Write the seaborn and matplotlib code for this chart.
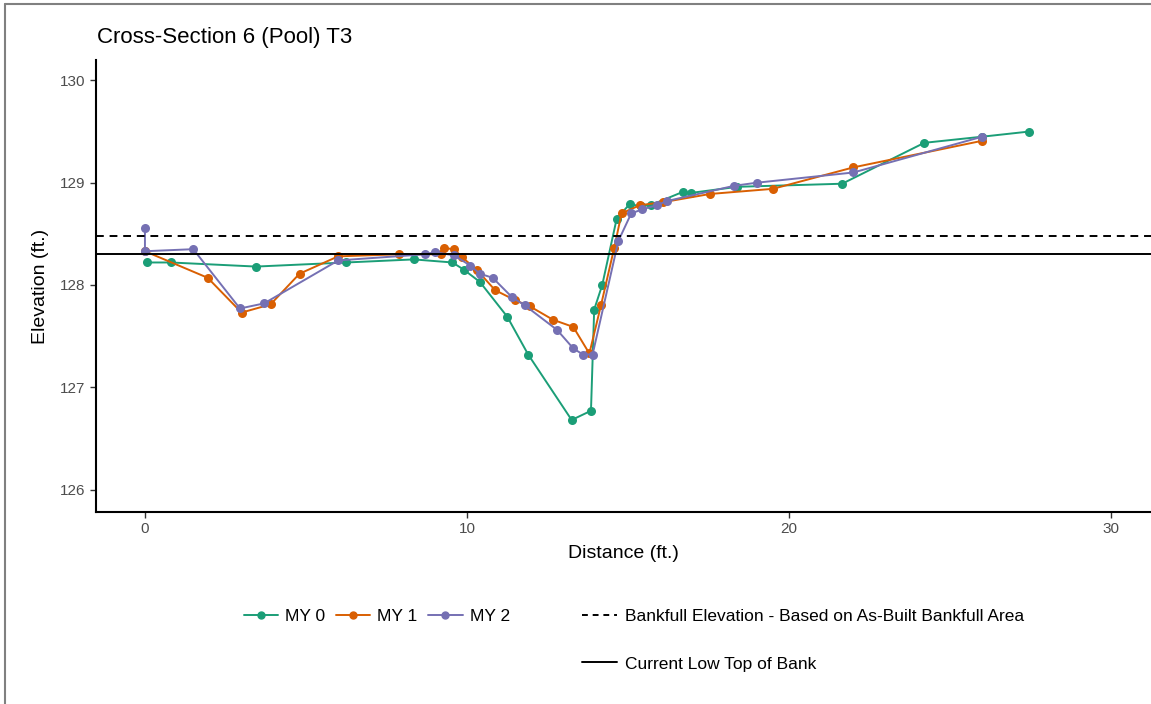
import seaborn as sns
import matplotlib.pyplot as plt
import matplotlib.lines as mlines
import pandas as pd

# Données
my0_x = [0.05, 0.8, 3.45, 6.25, 8.35, 9.55, 9.9, 10.4, 11.25, 11.9, 13.25, 13.85, 13.95, 14.2,
         14.65, 15.05, 15.4, 15.7, 16.7, 16.95, 18.4, 21.65, 24.2, 26.0, 27.45]
my0_y = [128.22, 128.22, 128.18, 128.22, 128.25, 128.22, 128.15, 128.03, 127.69, 127.32, 126.68,
         126.77, 127.76, 128.0, 128.65, 128.79, 128.77, 128.78, 128.91, 128.9, 128.96, 128.99,
         129.39, 129.45, 129.5]

my1_x = [0.0, 1.95, 3.0, 3.9, 4.8, 6.0, 7.9, 9.2, 9.3, 9.6, 9.85, 10.3, 10.87, 11.5, 11.96,
         12.67, 13.3, 13.8, 14.16, 14.57, 14.8, 15.37, 16.1, 17.55, 19.5, 22.0, 26.0]
my1_y = [128.33, 128.07, 127.73, 127.81, 128.11, 128.28, 128.3, 128.3, 128.36, 128.35, 128.27,
         128.15, 127.95, 127.85, 127.79, 127.66, 127.59, 127.33, 127.8, 128.36, 128.7, 128.78,
         128.81, 128.89, 128.94, 129.15, 129.41]

my2_x = [0.0, 0.0, 1.5, 2.95, 3.7, 6.0, 8.7, 9.0, 9.6, 10.1, 10.4, 10.8, 11.4, 11.8, 12.8,
         13.3, 13.6, 13.9, 14.7, 15.1, 15.45, 15.9, 16.2, 18.3, 19.0, 22.0, 26.0]
my2_y = [128.56, 128.33, 128.35, 127.77, 127.82, 128.24, 128.3, 128.32, 128.29, 128.19, 128.11,
         128.07, 127.88, 127.8, 127.56, 127.38, 127.32, 127.32, 128.43, 128.7, 128.74, 128.78,
         128.82, 128.97, 129.0, 129.1, 129.45]

bankfull = 128.48
low_top_bank = 128.30

series_names = ['MY 0', 'MY 1', 'MY 2']
palette = ['#1B9E77', '#D95F02', '#7570B3']

frames = []
for name, xs, ys in zip(series_names, [my0_x, my1_x, my2_x], [my0_y, my1_y, my2_y]):
    frames.append(pd.DataFrame({'Distance': xs, 'Elevation': ys, 'Survey': name}))
df = pd.concat(frames, ignore_index=True)

sns.set_style('white')
plt.rcParams['font.family'] = ['Liberation Sans', 'DejaVu Sans']
plt.rcParams['text.color'] = 'black'
plt.rcParams['axes.labelcolor'] = 'black'

fig = plt.figure(figsize=(11.51, 7.04), dpi=100)
ax = fig.add_axes([0.0834, 0.2727, 0.9166, 0.6421])

sns.lineplot(data=df, x='Distance', y='Elevation', hue='Survey', palette=palette,
             sort=False, estimator=None, marker='o', markersize=6.5, markeredgewidth=0,
             linewidth=1.4, legend=False, ax=ax)

ax.axhline(bankfull, color='black', linestyle=(0, (4, 3)), linewidth=1.4)
ax.axhline(low_top_bank, color='black', linestyle='-', linewidth=1.4)

ax.set_xlim(-1.52, 31.24)
ax.set_ylim(125.78, 130.2)
ax.set_xticks([0, 10, 20, 30])
ax.set_yticks([126, 127, 128, 129, 130])

for side in ['top', 'right']:
    ax.spines[side].set_visible(False)
for side in ['left', 'bottom']:
    ax.spines[side].set_color('black')
    ax.spines[side].set_linewidth(1.5)
ax.tick_params(axis='both', which='major', direction='out', length=4, width=1,
               color='#333333', labelsize=11, labelcolor='#4D4D4D', left=True, bottom=True)

ax.set_xlabel('Distance (ft.)', fontsize=14, labelpad=6, color='black')
ax.set_ylabel('Elevation (ft.)', fontsize=14, labelpad=8, color='black')
fig.text(0.084, 0.947, 'Cross-Section 6 (Pool) T3', fontsize=16, ha='left', va='center',
         color='black')

# Légendes
series_handles = [mlines.Line2D([], [], color=c, marker='o', markersize=5, linewidth=1.4)
                  for c in palette]
fig.legend(series_handles, series_names, ncol=3, loc='center left',
           bbox_to_anchor=(0.198, 0.125), frameon=False, fontsize=12.5,
           handlelength=2.0, handletextpad=0.4, columnspacing=0.6)
line_handles = [mlines.Line2D([], [], color='black', linestyle=(0, (3, 2.5)), linewidth=1.4),
                mlines.Line2D([], [], color='black', linestyle='-', linewidth=1.4)]
fig.legend(line_handles, ['Bankfull Elevation - Based on As-Built Bankfull Area',
                          'Current Low Top of Bank'],
           ncol=1, loc='upper left', bbox_to_anchor=(0.492, 0.157), frameon=False,
           fontsize=12.5, handlelength=2.0, handletextpad=0.5, labelspacing=1.85)

# Cadre gris
fig.add_artist(mlines.Line2D([0.004, 0.004], [0, 0.994], color='#808080', linewidth=1.5,
                             transform=fig.transFigure))
fig.add_artist(mlines.Line2D([0.004, 1.0], [0.994, 0.994], color='#808080', linewidth=1.5,
                             transform=fig.transFigure))

fig.savefig('out.png', dpi=100)
